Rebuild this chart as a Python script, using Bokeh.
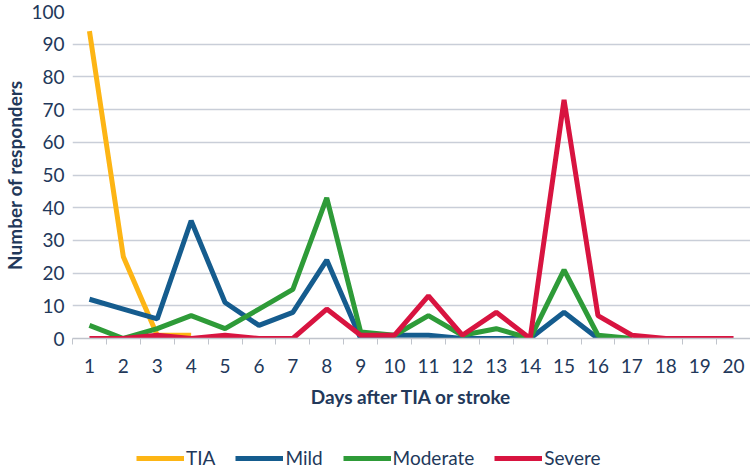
from bokeh.plotting import figure
from bokeh.layouts import column
from bokeh.models import FixedTicker, Legend, LegendItem, Range1d
from bokeh.embed import file_html
from bokeh.resources import INLINE

days = list(range(1, 21))
day_labels = [str(d) for d in days]
tia = [94, 25, 1, 1]
mild = [12, 9, 6, 36, 11, 4, 8, 24, 0, 1, 1, 0, 0, 0, 8, 0, 0]
moderate = [4, 0, 3, 7, 3, 9, 15, 43, 2, 1, 7, 1, 3, 0, 21, 1, 0]
severe = [0, 0, 1, 0, 1, 0, 0, 9, 1, 1, 13, 1, 8, 0, 73, 7, 1, 0, 0, 0]
series_names = ["TIA", "Mild", "Moderate", "Severe"]
series_colors = ["#FDB515", "#155C8E", "#2E9B38", "#D81440"]
y_ticks = list(range(0, 101, 10))

FONT = "Lato"
TXT = "#22385a"

p = figure(width=750, height=440, output_backend="svg", toolbar_location=None,
           x_range=Range1d(0.5, 20.5), y_range=Range1d(0, 100),
           min_border_left=72, min_border_top=11, min_border_right=0, min_border_bottom=102)
p.outline_line_color = None
p.background_fill_color = "white"

p.xaxis.ticker = FixedTicker(ticks=days, minor_ticks=[d + 0.5 for d in range(0, 21)])
p.xaxis.major_label_overrides = {d: l for d, l in zip(days, day_labels)}
p.xaxis.major_tick_line_color = None
p.xaxis.major_tick_out = 0
p.xaxis.major_tick_in = 0
p.xaxis.minor_tick_line_color = "#c0c4cc"
p.xaxis.minor_tick_in = 0
p.xaxis.minor_tick_out = 6
p.xaxis.axis_line_color = "#c0c4cc"
p.xaxis.axis_line_width = 1.5
p.xaxis.major_label_standoff = 14
p.xaxis.major_label_text_font = FONT
p.xaxis.major_label_text_font_size = "19px"
p.xaxis.major_label_text_color = TXT
p.xaxis.axis_label = "Days after TIA or stroke"
p.xaxis.axis_label_text_font = FONT
p.xaxis.axis_label_text_font_style = "bold"
p.xaxis.axis_label_text_font_size = "19px"
p.xaxis.axis_label_text_color = TXT
p.xaxis.axis_label_standoff = 9

p.yaxis.ticker = FixedTicker(ticks=y_ticks)
p.yaxis.axis_line_color = None
p.yaxis.major_tick_line_color = None
p.yaxis.major_tick_out = 0
p.yaxis.major_tick_in = 0
p.yaxis.minor_tick_line_color = None
p.yaxis.major_label_standoff = 8
p.yaxis.major_label_text_font = FONT
p.yaxis.major_label_text_font_size = "19px"
p.yaxis.major_label_text_color = TXT
p.yaxis.axis_label = "Number of responders"
p.yaxis.axis_label_text_font = FONT
p.yaxis.axis_label_text_font_style = "bold"
p.yaxis.axis_label_text_font_size = "19px"
p.yaxis.axis_label_text_color = TXT
p.yaxis.axis_label_standoff = 2

p.xgrid.grid_line_color = None
p.ygrid.ticker = FixedTicker(ticks=y_ticks[1:])
p.ygrid.grid_line_color = "#c9ced8"
p.ygrid.grid_line_width = 1.5

W = 5
for vals, col in zip([tia, mild, moderate, severe], series_colors):
    p.line(days[:len(vals)], vals, line_color=col, line_width=W)

# legend strip below the chart (handles carry no visible data)
p2 = figure(width=750, height=35, output_backend="svg", toolbar_location=None,
            x_axis_location=None, y_axis_location=None,
            x_range=Range1d(0, 1), y_range=Range1d(0, 1),
            min_border_left=0, min_border_right=0, min_border_top=0, min_border_bottom=0)
p2.outline_line_color = None
p2.grid.visible = False
items = []
nan = float("nan")
for name, col in zip(series_names, series_colors):
    r = p2.line([nan], [nan], line_color=col, line_width=5)
    items.append(LegendItem(label=name, renderers=[r]))
legend = Legend(items=items, orientation="horizontal", location=(64, 6),
                label_text_font=FONT, label_text_font_size="19px", label_text_color=TXT,
                glyph_width=48, glyph_height=10, label_standoff=2, spacing=20,
                padding=1, margin=0, border_line_color=None, background_fill_alpha=0)
p2.add_layout(legend, "center")

open("out.html", "w").write(file_html(column(p, p2), INLINE))
